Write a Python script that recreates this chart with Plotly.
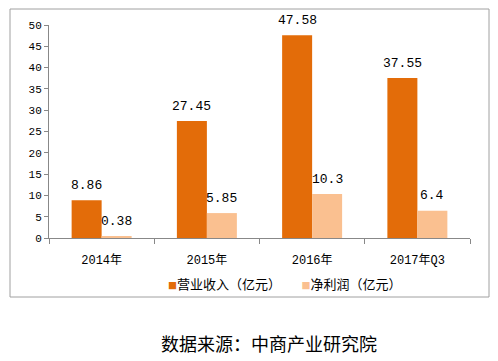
import plotly.graph_objects as go

categories = ["2014年", "2015年", "2016年", "2017年Q3"]
revenue = [8.86, 27.45, 47.58, 37.55]
profit = [0.38, 5.85, 10.3, 6.4]
revenue_labels = ["8.86", "27.45", "47.58", "37.55"]
profit_labels = ["0.38", "5.85", "10.3", "6.4"]
y_ticks = [0, 5, 10, 15, 20, 25, 30, 35, 40, 45, 50]
series_names = ["营业收入（亿元）", "净利润（亿元）"]
series_colors = ["#E36C09", "#FAC090"]

mono = "Liberation Mono, Noto Sans CJK SC, monospace"
cjk = "Noto Sans CJK SC, sans-serif"

fig = go.Figure()
fig.add_trace(go.Bar(
    x=categories, y=revenue, name=series_names[0],
    marker=dict(color=series_colors[0], line=dict(width=0)),
))
fig.add_trace(go.Bar(
    x=categories, y=profit, name=series_names[1],
    marker=dict(color=series_colors[1], line=dict(width=0)),
))

W, H = 498, 361
L, R, T, B = 49, 28, 25, 123
pw, ph = W - L - R, H - T - B

def px(x):
    return (x - L) / pw

def py(y):
    return (H - B - y) / ph

annotations = []
for vals, labels, shift in ((revenue, revenue_labels, -15), (profit, profit_labels, 15)):
    for c, v, t in zip(categories, vals, labels):
        annotations.append(dict(
            x=c, y=v, xref="x", yref="y", text=t, showarrow=False,
            xanchor="center", yanchor="middle", xshift=shift, yshift=15,
            font=dict(family=mono, size=13, color="#000000")))

legend_text = (
    f"<span style='color:{series_colors[0]};font-size:9px'>■</span>{series_names[0]}"
    f"       "
    f"<span style='color:{series_colors[1]};font-size:9px'>■</span>{series_names[1]}"
)
annotations.append(dict(text=legend_text, xref="paper", yref="paper",
                        x=px(284), y=py(283), xanchor="center", yanchor="middle",
                        showarrow=False, font=dict(family=cjk, size=13, color="#000000")))
annotations.append(dict(text="数据来源：中商产业研究院", xref="paper", yref="paper",
                        x=px(269), y=py(343), xanchor="center", yanchor="middle",
                        showarrow=False, font=dict(family=cjk, size=18, color="#000000")))

fig.update_layout(
    width=W, height=H,
    margin=dict(l=L, r=R, t=T, b=B),
    paper_bgcolor="white", plot_bgcolor="white",
    barmode="group", bargap=0.43, bargroupgap=0,
    showlegend=False,
    font=dict(family=mono, size=12, color="#000000"),
    xaxis=dict(showgrid=False, showline=True, linecolor="#888888", linewidth=1,
               ticks="outside", ticklen=5, tickcolor="#888888", tickson="boundaries",
               ticklabelstandoff=11,
               tickfont=dict(family=mono, size=12, color="#000000")),
    yaxis=dict(range=[0, 50], tickvals=y_ticks, showgrid=False, showline=True,
               linecolor="#888888", linewidth=1, ticks="outside", ticklen=4,
               tickcolor="#888888", zeroline=False,
               tickfont=dict(family=mono, size=11, color="#000000")),
    shapes=[dict(type="rect", xref="paper", yref="paper",
                 x0=px(10), x1=px(489), y0=py(297), y1=py(9),
                 line=dict(color="#A0A0A0", width=1), fillcolor="rgba(0,0,0,0)",
                 layer="above")],
    annotations=annotations,
)

fig.write_html("out.html", config={"displayModeBar": False},
               post_script="document.body.style.margin='0px';")
